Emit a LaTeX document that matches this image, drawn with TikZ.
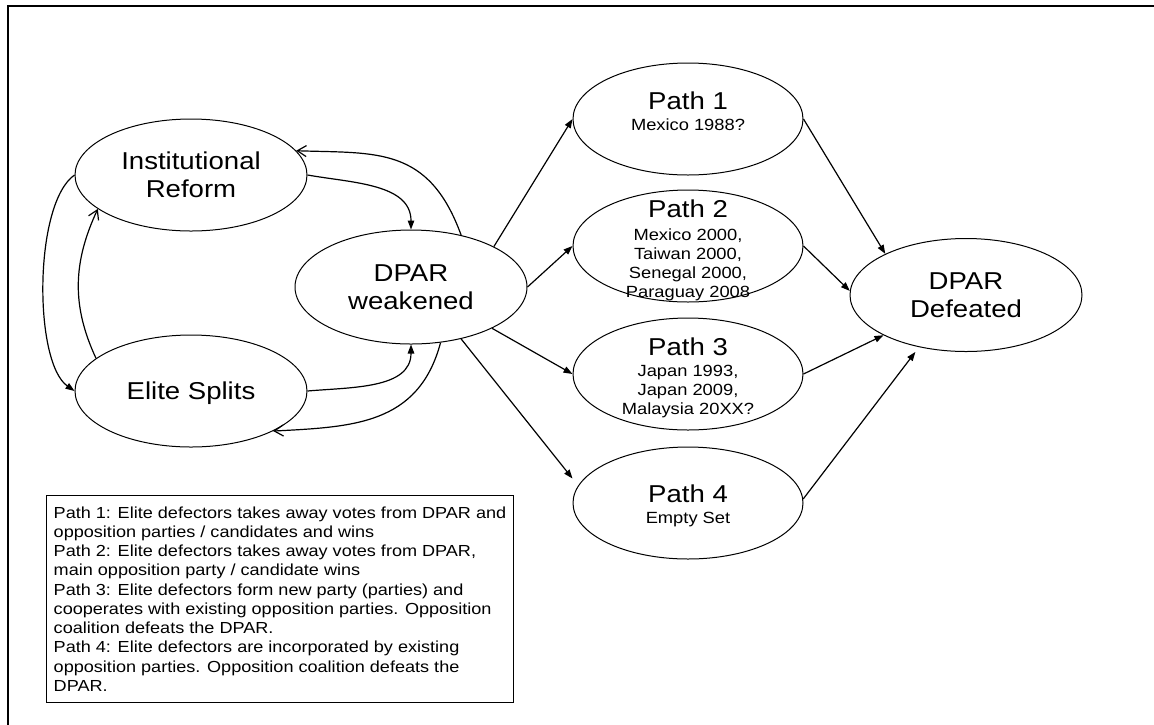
\documentclass[tikz,border=0pt]{standalone}
\usepackage{fontspec}
\setmainfont[FakeStretch=1.13]{Liberation Sans}
\usetikzlibrary{arrows.meta,shapes.geometric}

\tikzset{
  state/.style={ellipse, draw, line width=1pt, minimum width=232pt,
    minimum height=112pt, inner sep=0pt, align=center,
    font=\fontsize{24.4}{28}\selectfont},
  pathoval/.style={ellipse, draw, line width=1pt, minimum width=230pt,
    minimum height=112pt, inner sep=0pt},
  pathtext/.style={align=center, inner sep=0pt,
    font=\fontsize{16.2}{19.2}\selectfont},
  flow/.style={line width=1.2pt, -{Triangle[length=9pt,width=6.5pt]}},
  back/.style={line width=1.2pt, -{Straight Barb[length=9pt,width=11pt]}},
  legendbox/.style={draw, line width=1pt, minimum width=467pt,
    minimum height=207pt, align=left, inner sep=0pt, anchor=north west,
    font=\fontsize{16}{19.25}\selectfont},
  frameline/.style={line width=2.3pt}
}
\newcommand{\ptitle}[1]{{\fontsize{24.4}{28}\selectfont #1}}

\begin{document}
\begin{tikzpicture}[x=1pt,y=1pt]
\useasboundingbox (0,0) rectangle (1154,-724);

% outer frame (top and left edges)
\draw[frameline] (8,-730) -- (8,-6) -- (1160,-6);

% main states
\node[state] (ir) at (191,-175) {Institutional\\Reform};
\node[state, text depth=0pt] (es) at (191,-391) {Elite Splits};
\node[state, minimum height=114pt] (dw) at (411,-287) {DPAR\\weakened};
\node[state, minimum height=113pt] (dd) at (966,-295) {DPAR\\Defeated};

% the four paths
\node[pathoval] (p1) at (688,-119) {};
\node[pathoval] (p2) at (688,-246) {};
\node[pathoval] (p3) at (688,-374) {};
\node[pathoval] (p4) at (688,-503) {};

\node[pathtext] (t1) at (688,-111) {\ptitle{Path 1}\\[2pt] Mexico 1988?};
\node[pathtext] (t2) at (688,-250.7) {\ptitle{Path 2}\\[3pt] Mexico 2000,\\ Taiwan 2000,\\ Senegal 2000,\\ Paraguay 2008};
\node[pathtext] (t3) at (688,-377.7) {\ptitle{Path 3}\\[2pt] Japan 1993,\\ Japan 2009,\\ Malaysia 20XX?};
\node[pathtext] (t4) at (688,-505.7) {\ptitle{Path 4}\\[2pt] Empty Set};

% legend
\node[legendbox] (legend) at (46,-495) {%
Path 1: Elite defectors takes away votes from DPAR and\\
opposition parties / candidates and wins\\
Path 2: Elite defectors takes away votes from DPAR,\\
main opposition party / candidate wins\\
Path 3: Elite defectors form new party (parties) and\\
cooperates with existing opposition parties. Opposition\\
coalition defeats the DPAR.\\
Path 4: Elite defectors are incorporated by existing\\
opposition parties. Opposition coalition defeats the\\
DPAR.};

% feedback loops between the causes and DPAR weakened
\draw[flow] (ir.east) to[out=-10,in=90] (dw.north);
\draw[back] (dw.46) to[out=110,in=-2,out distance=95pt,in distance=80pt] (ir.13);
\draw[flow] (es.east) to[out=5,in=-90] (dw.south);
\draw[back] (dw.-62) to[out=-105,in=3,out distance=85pt,in distance=80pt] (es.-26);
\draw[flow] (ir.west) to[out=215,in=145,out distance=50pt,in distance=50pt] (es.west);
\draw[back] (es.161) to[out=115,in=245] (ir.200);

% DPAR weakened to the paths
\draw[flow] (dw.26) -- (p1.west);
\draw[flow] (dw.east) -- (p2.west);
\draw[flow] (dw.-27) -- (p3.west);
\draw[flow, shorten >=9pt] (dw.-46) -- (p4.171);

% paths to DPAR defeated
\draw[flow] (p1.east) -- (dd.153);
\draw[flow] (p2.east) -- (dd.178);
\draw[flow] (p3.east) -- (dd.206);
\draw[flow, shorten >=6pt] (p4.2) -- (dd.228);
\end{tikzpicture}
\end{document}
